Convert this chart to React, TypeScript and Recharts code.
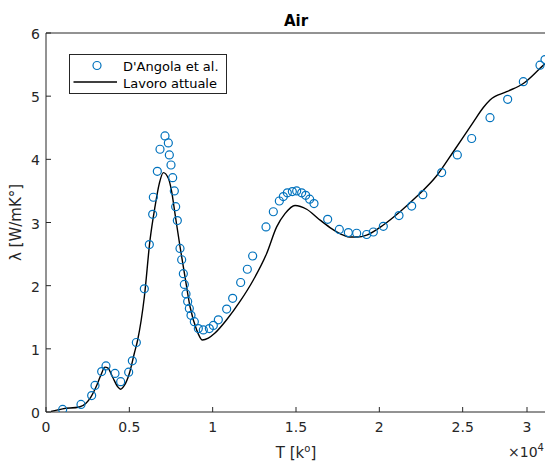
import React from 'react';
import { ComposedChart, Line, Scatter, XAxis, YAxis, Legend } from 'recharts';

const xTicks = [0, 5000, 10000, 15000, 20000, 25000, 30000];
const yTicks = [0, 1, 2, 3, 4, 5, 6];

// D'Angola et al. (circles)
const dAngolaT = [
  1000, 2100, 2740, 2940, 3340, 3600, 4140, 4480, 4960, 5180, 5420, 5900, 6200, 6400, 6440,
  6680, 6840, 7140, 7340, 7400, 7500, 7600, 7700, 7780, 7880, 8040, 8140, 8240, 8300, 8400,
  8500, 8600, 8700, 8900, 9140, 9440, 9800, 10040, 10340, 10840, 11200, 11680, 12080, 12400,
  13200, 13640, 14000, 14240, 14480, 14780, 15040, 15340, 15580, 15820, 16080, 16900, 17600,
  18140, 18640, 19240, 19640, 20240, 21180, 21940, 22610, 23740, 24680, 25540, 26640, 27700,
  28640, 29640, 29940,
];
const dAngolaK = [
  0.04, 0.12, 0.26, 0.42, 0.64, 0.73, 0.61, 0.48, 0.63, 0.81, 1.1, 1.95, 2.65, 3.13, 3.4,
  3.81, 4.16, 4.37, 4.26, 4.07, 3.91, 3.71, 3.5, 3.25, 3.03, 2.59, 2.41, 2.19, 2.02, 1.87,
  1.75, 1.64, 1.53, 1.43, 1.32, 1.3, 1.32, 1.37, 1.46, 1.63, 1.8, 2.05, 2.26, 2.47,
  2.93, 3.17, 3.34, 3.41, 3.47, 3.49, 3.5, 3.47, 3.43, 3.37, 3.3, 3.05, 2.89,
  2.84, 2.83, 2.81, 2.85, 2.94, 3.11, 3.26, 3.44, 3.79, 4.07, 4.33, 4.66, 4.95,
  5.23, 5.49, 5.58,
];

// Lavoro attuale (line)
const lavoroT = [
  300, 1000, 2000, 2400, 2700, 3060, 3300, 3540, 3700, 4000, 4300, 4480, 4700, 5000, 5300,
  5500, 5900, 6240, 6540, 6800, 7040, 7340, 7540, 7740, 8040, 8340, 8640, 9040, 9380, 9740,
  10140, 10840, 11640, 12440, 13240, 13840, 14340, 14940, 15640, 16340, 17040, 17840, 18240,
  18700, 19240, 20240, 21240, 22240, 23440, 24440, 25640, 26240, 26640, 27640, 28640, 29640,
  30000,
];
const lavoroK = [
  0.01, 0.05, 0.08, 0.14, 0.24, 0.43, 0.59, 0.71, 0.7, 0.55, 0.4, 0.36, 0.42, 0.61, 0.93,
  1.14, 1.82, 2.72, 3.25, 3.62, 3.79, 3.7, 3.49, 3.14, 2.62, 2.14, 1.67, 1.3, 1.14, 1.17,
  1.25, 1.46, 1.75, 2.09, 2.51, 2.93, 3.14, 3.27, 3.21, 3.06, 2.92, 2.8, 2.77,
  2.77, 2.8, 2.96, 3.17, 3.41, 3.74, 4.12, 4.59, 4.82, 4.94, 5.07, 5.2, 5.44,
  5.53,
];

const dAngola = dAngolaT.map((t, i) => ({ T: t, k: dAngolaK[i] }));
const lavoro = lavoroT.map((t, i) => ({ T: t, k: lavoroK[i] }));

const AXIS = '#262626';
const BLUE = '#0072BD';
const FONT = '"DejaVu Sans", sans-serif';

const BottomTick = ({ x, y, payload }: any) => (
  <g>
    <line x1={x} x2={x} y1={y} y2={y - 5} stroke={AXIS} />
    <text x={x} y={y + 20} textAnchor="middle" fill={AXIS} fontSize={14} fontFamily={FONT}>
      {payload.value / 10000}
    </text>
  </g>
);

const LeftTick = ({ x, y, payload }: any) => (
  <g>
    <line x1={x} x2={x + 5} y1={y} y2={y} stroke={AXIS} />
    <text x={x - 6} y={y + 6} textAnchor="end" fill={AXIS} fontSize={14} fontFamily={FONT}>
      {payload.value}
    </text>
  </g>
);

const TopTick = ({ x, y }: any) => <line x1={x} x2={x} y1={y} y2={y + 5} stroke={AXIS} />;
const RightTick = ({ x, y }: any) => <line x1={x} x2={x - 5} y1={y} y2={y} stroke={AXIS} />;

const OpenCircle = ({ cx, cy }: any) => (
  <circle cx={cx} cy={cy} r={4} fill="none" stroke={BLUE} strokeWidth={1.2} />
);

const XLabel = ({ viewBox }: any) => {
  const { x, y, width } = viewBox;
  return (
    <g fill={AXIS} fontFamily={FONT}>
      <text x={x + width / 2} y={y + 46} textAnchor="middle" fontSize={15}>
        T [k<tspan dy={-6} fontSize={10}>o</tspan>
        <tspan dy={6}>]</tspan>
      </text>
      <text x={x + 462} y={y + 45} fontSize={14}>
        ×10<tspan dy={-6} fontSize={10}>4</tspan>
      </text>
    </g>
  );
};

const YLabel = ({ viewBox }: any) => {
  const { y, height } = viewBox;
  const cy = y + height / 2;
  return (
    <text
      x={21}
      y={cy}
      textAnchor="middle"
      fill={AXIS}
      fontSize={15}
      fontFamily={FONT}
      transform={`rotate(-90, 21, ${cy})`}
    >
      λ [W/mK°]
    </text>
  );
};

const TitleLabel = ({ viewBox }: any) => {
  const { x, width } = viewBox;
  return (
    <text x={x + width / 2} y={26} textAnchor="middle" fill="#000" fontSize={15} fontWeight="bold" fontFamily={FONT}>
      Air
    </text>
  );
};

const LegendBox = () => (
  <svg width={158} height={40} style={{ display: 'block' }}>
    <rect x={0.5} y={0.5} width={157} height={39} fill="#fff" stroke={AXIS} />
    <circle cx={28} cy={11.5} r={4} fill="none" stroke={BLUE} strokeWidth={1.2} />
    <line x1={4.5} x2={48} y1={28} y2={28} stroke="#000" strokeWidth={1.5} />
    <text x={54} y={16.5} fontSize={13} fill="#000" fontFamily={FONT}>D'Angola et al.</text>
    <text x={54} y={33.5} fontSize={13} fill="#000" fontFamily={FONT}>Lavoro attuale</text>
  </svg>
);

export default function App() {
  return (
    <div style={{ width: 545, height: 463, overflow: 'hidden', background: '#fff' }}>
      <style>{'body{margin:0}'}</style>
      <ComposedChart width={547} height={463} margin={{ top: 32, right: 0, bottom: 0, left: 0 }}>
        <XAxis
          dataKey="T"
          type="number"
          domain={[0, 30000]}
          ticks={xTicks}
          allowDataOverflow
          height={51}
          tickSize={0}
          tickMargin={0}
          tick={<BottomTick />}
          axisLine={{ stroke: AXIS }}
          label={<XLabel />}
        />
        <XAxis
          xAxisId="top"
          orientation="top"
          type="number"
          domain={[0, 30000]}
          ticks={xTicks}
          height={1}
          tickSize={0}
          tickMargin={0}
          tick={<TopTick />}
          axisLine={{ stroke: AXIS }}
          label={<TitleLabel />}
        />
        <YAxis
          type="number"
          domain={[0, 6]}
          ticks={yTicks}
          allowDataOverflow
          width={46}
          tickSize={0}
          tickMargin={0}
          tick={<LeftTick />}
          axisLine={{ stroke: AXIS }}
          label={<YLabel />}
        />
        <YAxis
          yAxisId="right"
          orientation="right"
          type="number"
          domain={[0, 6]}
          ticks={yTicks}
          width={1}
          tickSize={0}
          tickMargin={0}
          tick={<RightTick />}
          axisLine={{ stroke: AXIS }}
        />
        <Legend
          layout="horizontal"
          verticalAlign="middle"
          align="center"
          content={() => <LegendBox />}
          wrapperStyle={{ left: 69, top: 54, width: 158, height: 40 }}
        />
        <Line
          data={lavoro}
          dataKey="k"
          type="monotone"
          stroke="#000"
          strokeWidth={1.4}
          dot={false}
          isAnimationActive={false}
        />
        <Scatter data={dAngola} dataKey="k" shape={<OpenCircle />} isAnimationActive={false} />
      </ComposedChart>
    </div>
  );
}
